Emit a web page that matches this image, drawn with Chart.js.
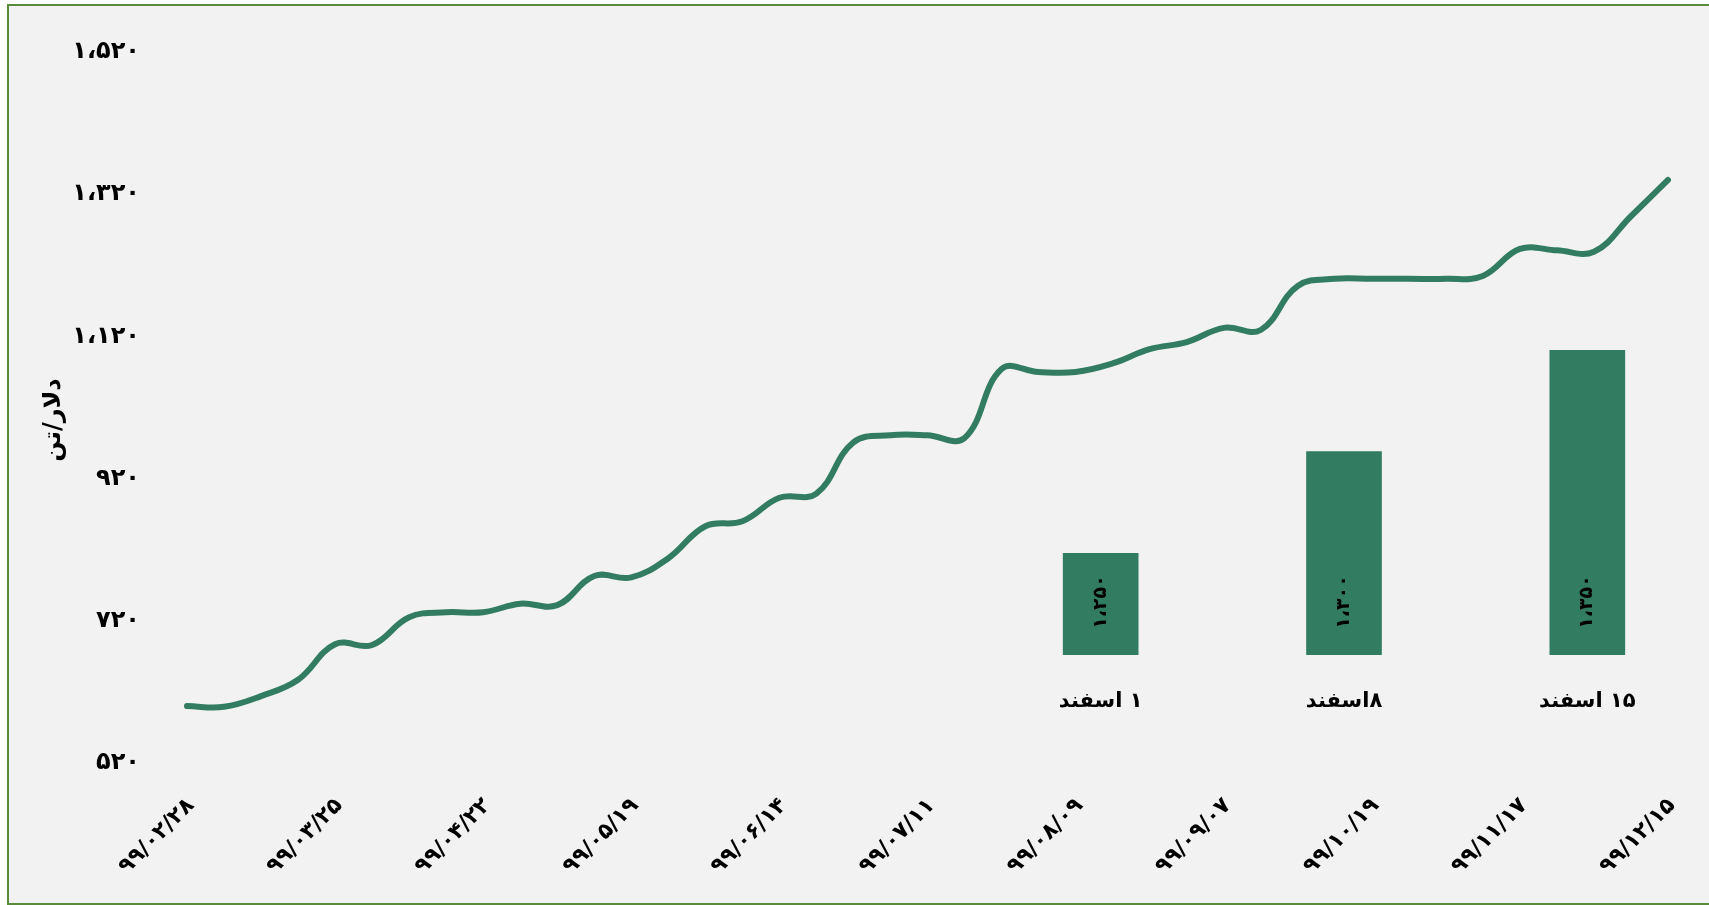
<!DOCTYPE html>
<html>
<head>
<meta charset="utf-8">
<title>قیمت دلار/تن</title>
<script src="https://cdn.jsdelivr.net/npm/chart.js@4.4.1/dist/chart.umd.min.js"></script>
<style>
    html, body { margin: 0; padding: 0; background: #ffffff; }
    #page { position: relative; width: 1709px; height: 905px; overflow: hidden; }
    #frame {
        position: absolute; left: 7px; top: 4px; width: 1704px; height: 901px;
        box-sizing: border-box; border: 2px solid #5a8b3d; background: #f2f2f2;
    }
    #mainWrap { position: absolute; left: 0; top: 0; width: 1709px; height: 905px; }
    #barWrap { position: absolute; left: 979px; top: 330px; width: 730px; height: 383px; direction: rtl; }
</style>
</head>
<body>
<div id="page">
    <div id="frame"></div>
    <div id="mainWrap"><canvas id="lineChart"></canvas></div>
    <div id="barWrap"><canvas id="barChart" dir="rtl"></canvas></div>
</div>
<script>
// تاریخ‌ها (هر ۴ هفته یک برچسب)
const dateLabels = ['۹۹/۰۲/۲۸', '۹۹/۰۳/۲۵', '۹۹/۰۴/۲۲', '۹۹/۰۵/۱۹', '۹۹/۰۶/۱۴', '۹۹/۰۷/۱۱',
    '۹۹/۰۸/۰۹', '۹۹/۰۹/۰۷', '۹۹/۱۰/۱۹', '۹۹/۱۱/۱۷', '۹۹/۱۲/۱۵'];

// قیمت هفتگی (دلار/تن)
const lineValues = [600, 599, 614, 637, 687, 686, 725, 732, 732, 744,
    742, 783, 781, 808, 853, 860, 893, 899, 971, 981,
    981, 977, 1074, 1070, 1070, 1082, 1102, 1112, 1132, 1129,
    1191, 1201, 1201, 1201, 1201, 1205, 1243, 1241, 1239, 1289,
    1340];

const yTickValues = [520, 720, 920, 1120, 1320, 1520];
const yTickLabels = ['۵۲۰', '۷۲۰', '۹۲۰', '۱،۱۲۰', '۱،۳۲۰', '۱،۵۲۰'];
const yTitle = 'دلار/تن';

const barLabels = ['۱ اسفند', '۸اسفند', '۱۵ اسفند'];
const barValues = [1250, 1300, 1350];
const barValueLabels = ['۱،۲۵۰', '۱،۳۰۰', '۱،۳۵۰'];

const green = '#327d62';

Chart.defaults.font.family = '"DejaVu Sans", sans-serif';
Chart.defaults.font.weight = 'bold';
Chart.defaults.color = '#000000';

const weekLabels = lineValues.map((v, i) => (i % 4 === 0 ? dateLabels[i / 4] : ''));

// عنوان محور عمودی، کمی پایین‌تر از وسط محور
const yTitlePlugin = {
    id: 'yTitle',
    afterDraw(chart) {
        const ctx = chart.ctx;
        ctx.save();
        ctx.translate(54, 420);
        ctx.rotate(-Math.PI / 2);
        ctx.font = 'bold 24px "DejaVu Sans"';
        ctx.fillStyle = '#000000';
        ctx.textAlign = 'center';
        ctx.textBaseline = 'middle';
        ctx.fillText(yTitle, 0, 0);
        ctx.restore();
    }
};

new Chart(document.getElementById('lineChart').getContext('2d'), {
    type: 'line',
    data: {
        labels: weekLabels,
        datasets: [{
            data: lineValues,
            borderColor: green,
            borderWidth: 6,
            borderCapStyle: 'round',
            pointRadius: 0,
            tension: 0.4,
            fill: false
        }]
    },
    options: {
        animation: false,
        responsive: true,
        maintainAspectRatio: false,
        layout: { padding: { top: 52, right: 41, left: 0, bottom: 0 } },
        scales: {
            x: {
                grid: { display: false, drawTicks: false },
                border: { display: false },
                ticks: {
                    autoSkip: false,
                    minRotation: 45,
                    maxRotation: 45,
                    padding: 30,
                    labelOffset: 4,
                    font: { size: 22 }
                },
                afterFit: function (s) {
                    s.height = 142;
                    s.paddingLeft = 0;
                    s.paddingRight = 0;
                }
            },
            y: {
                min: 520,
                max: 1520,
                grid: { display: false, drawTicks: false },
                border: { display: false },
                ticks: {
                    stepSize: 200,
                    padding: 47,
                    font: { size: 24 },
                    callback: function (v) {
                        const k = yTickValues.indexOf(v);
                        return k >= 0 ? yTickLabels[k] : '';
                    }
                },
                afterFit: function (s) {
                    s.width = 187;
                    s.paddingTop = 0;
                    s.paddingBottom = 0;
                }
            }
        },
        plugins: {
            legend: { display: false },
            tooltip: { enabled: false }
        }
    },
    plugins: [yTitlePlugin]
});

// برچسب مقدار داخل ستون‌ها، عمودی، نزدیک پایه
const barValuePlugin = {
    id: 'barValue',
    afterDraw(chart) {
        const ctx = chart.ctx;
        const bottom = chart.chartArea.bottom;
        chart.getDatasetMeta(0).data.forEach(function (bar, i) {
            ctx.save();
            ctx.translate(bar.x, bottom - 53);
            ctx.rotate(-Math.PI / 2);
            ctx.font = 'bold 19px "DejaVu Sans"';
            ctx.fillStyle = '#000000';
            ctx.textAlign = 'center';
            ctx.textBaseline = 'middle';
            ctx.fillText(barValueLabels[i], 0, 0);
            ctx.restore();
        });
    }
};

new Chart(document.getElementById('barChart').getContext('2d'), {
    type: 'bar',
    data: {
        labels: barLabels,
        datasets: [{
            data: barValues,
            backgroundColor: green,
            barThickness: 75
        }]
    },
    options: {
        animation: false,
        responsive: true,
        maintainAspectRatio: false,
        layout: { padding: { top: 20, left: 0, right: 0, bottom: 0 } },
        scales: {
            x: {
                grid: { display: false, drawTicks: false },
                border: { display: false },
                ticks: { padding: 34, font: { size: 21 } },
                afterFit: function (s) { s.height = 58; }
            },
            y: { display: false, min: 1200, max: 1350 }
        },
        plugins: {
            legend: { display: false },
            tooltip: { enabled: false }
        }
    },
    plugins: [barValuePlugin]
});
</script>
</body>
</html>
